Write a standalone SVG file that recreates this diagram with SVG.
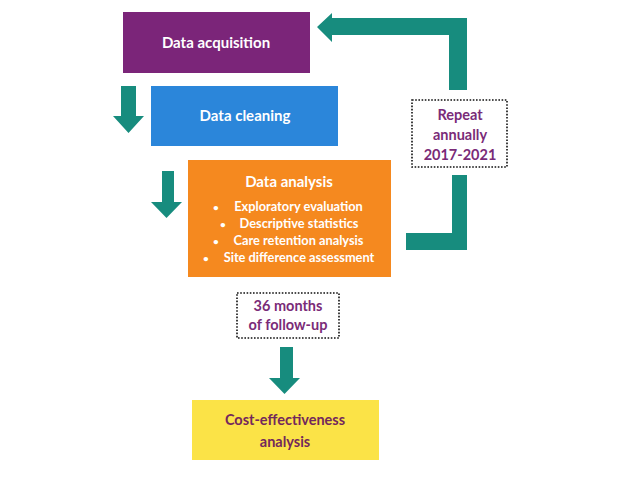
<svg xmlns="http://www.w3.org/2000/svg" width="640" height="480" viewBox="0 0 640 480">
<style>
.t{font-family:Lato,"Open Sans","Liberation Sans",sans-serif;font-weight:bold;text-anchor:middle}
.w{fill:#ffffff}
.p{fill:#7A2B78}
.c{fill:#73285C}
.arr{fill:#178C7E}
.dot{fill:#ffffff;stroke:#111111;stroke-width:1.6;stroke-dasharray:1.6 1.6}
</style>
<rect width="640" height="480" fill="#ffffff"/>
<g id="connectors">
<polygon class="arr" points="317,27 332,13 332,18 467,18 467,90 449,90 449,35 332,35 332,42"/>
<polygon class="arr" points="452,175 467,175 467,250 406,250 406,233 452,233"/>
<polygon class="arr" points="121,86 136,86 136,116 144,116 128.5,133 113,116 121,116"/>
<polygon class="arr" points="162,171 174,171 174,202 182,202 166.5,218 151,202 162,202"/>
<polygon class="arr" points="280,347 293,347 293,378 300,378 284.5,394 269,378 280,378"/>
</g>
<g id="data-acquisition">
<rect x="123" y="12" width="187" height="61" fill="#7B2579"/>
<text class="t w" x="216" y="48" font-size="15">Data acquisition</text>
</g>
<g id="data-cleaning">
<rect x="151" y="86" width="187" height="60" fill="#2B86DA"/>
<text class="t w" x="245" y="121" font-size="15">Data cleaning</text>
</g>
<g id="data-analysis">
<rect x="188" y="160" width="203" height="117" fill="#F5891F"/>
<text class="t w" x="289" y="187" font-size="15">Data analysis</text>
<g font-size="12.8" class="t w">
<text x="216" y="211" font-size="10">•</text>
<text x="298.5" y="211">Exploratory  evaluation</text>
<text x="223" y="228" font-size="10">•</text>
<text x="299" y="228">Descriptive  statistics</text>
<text x="216" y="245" font-size="10">•</text>
<text x="298.5" y="245">Care retention analysis</text>
<text x="206" y="262" font-size="10">•</text>
<text x="299" y="262">Site difference assessment</text>
</g>
</g>
<g id="repeat-annually">
<rect class="dot" x="412" y="100" width="95" height="67"/>
<text class="t p" x="460" y="120" font-size="14.5">Repeat</text>
<text class="t p" x="460" y="140" font-size="14.5">annually</text>
<text class="t p" x="460" y="160" font-size="14.5">2017-2021</text>
</g>
<g id="follow-up">
<rect class="dot" x="237" y="293" width="102" height="45"/>
<text class="t p" x="288" y="311" font-size="14.5">36 months</text>
<text class="t p" x="288" y="330" font-size="14.5">of follow-up</text>
</g>
<g id="cost-effectiveness">
<rect x="192" y="400" width="187" height="60" fill="#FBE347"/>
<text class="t c" x="285" y="425" font-size="14.5">Cost-effectiveness</text>
<text class="t c" x="285" y="447" font-size="14.5">analysis</text>
</g>
</svg>
